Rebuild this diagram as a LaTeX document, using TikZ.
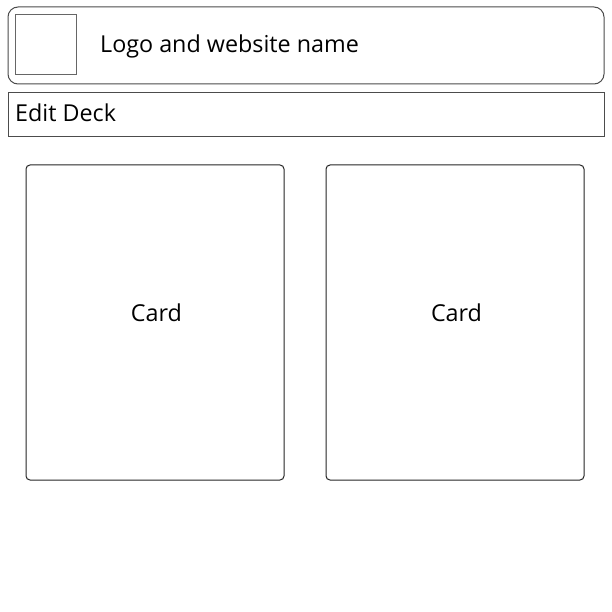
\documentclass[tikz,border=0pt]{standalone}
\usepackage{fontspec}
\setmainfont{Open Sans}
\begin{document}
\begin{tikzpicture}[x=1bp,y=-1bp,
  frame/.style={draw=black!70,line width=1bp},
  cardbox/.style={draw=black!85,line width=1bp,rounded corners=4bp},
  lbl/.style={font=\fontsize{23.4}{27}\selectfont,inner sep=0pt}]
\useasboundingbox[fill=white] (0,0) rectangle (612,612);
\draw[frame,rounded corners=10bp] (8,7) rectangle (604,84);
\node[frame,draw=black!60,minimum width=60bp,minimum height=60bp,inner sep=0pt] (logo) at (46,45) {};
\node[lbl,anchor=base west] (title) at (100,53) {Logo and website name};
\draw[frame] (8,93) rectangle (604,137);
\node[lbl,anchor=base west] (edit) at (15,122) {Edit Deck};
\draw[cardbox] (26,165) rectangle (284,480);
\node[lbl,anchor=base] (c1) at (156.5,321) {Card};
\draw[cardbox] (326,165) rectangle (584,480);
\node[lbl,anchor=base] (c2) at (456.5,321) {Card};
\end{tikzpicture}
\end{document}
